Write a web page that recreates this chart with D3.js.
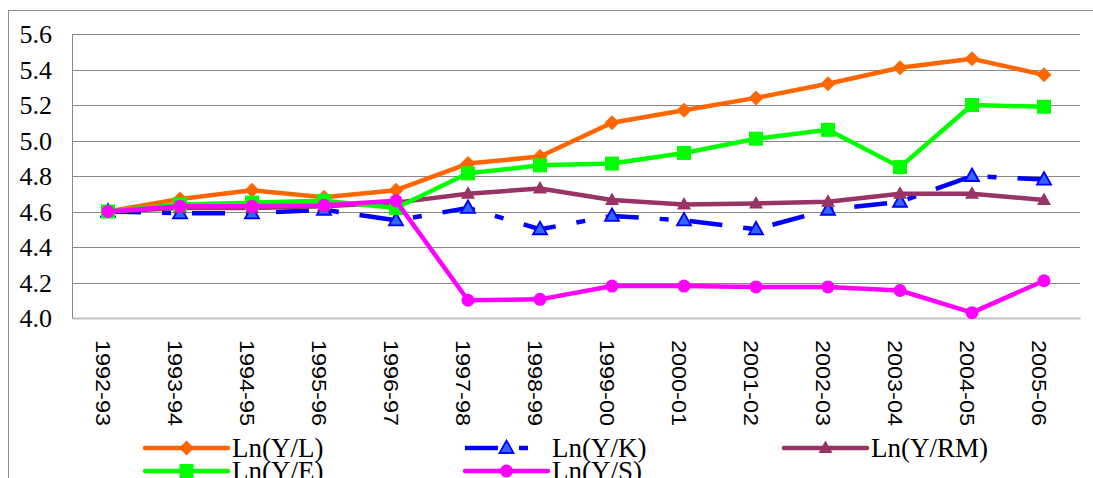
<!DOCTYPE html>
<html><head><meta charset="utf-8">
<script src="https://cdn.jsdelivr.net/npm/d3@7"></script>
<style>html,body{margin:0;padding:0;background:#fff;}svg{display:block;}</style>
</head><body>
<svg id="c" width="1093" height="478"></svg>
<script>
const categories = ["1992-93","1993-94","1994-95","1995-96","1996-97","1997-98","1998-99","1999-00","2000-01","2001-02","2002-03","2003-04","2004-05","2005-06"];
const yTicks = [4.0,4.2,4.4,4.6,4.8,5.0,5.2,5.4,5.6];
const lnYL  = [4.60,4.67,4.72,4.68,4.72,4.87,4.91,5.10,5.17,5.24,5.32,5.41,5.46,5.37];
const lnYK  = [4.60,4.59,4.59,4.61,4.55,4.62,4.50,4.575,4.55,4.50,4.61,4.655,4.80,4.78];
const lnYRM = [4.60,4.62,4.62,4.63,4.65,4.70,4.73,4.665,4.64,4.645,4.655,4.70,4.70,4.665];
const lnYE  = [4.60,4.64,4.65,4.66,4.62,4.815,4.86,4.87,4.93,5.01,5.06,4.85,5.20,5.19];
const lnYS  = [4.60,4.63,4.63,4.635,4.66,4.10,4.105,4.18,4.18,4.175,4.175,4.155,4.03,4.21];
const seriesNames = ["Ln(Y/L)","Ln(Y/K)","Ln(Y/RM)","Ln(Y/E)","Ln(Y/S)"];

const series = [
  {name:seriesNames[0], values:lnYL,  color:"#FF6600", marker:"diamond"},
  {name:seriesNames[1], values:lnYK,  color:"#0000FF", marker:"triangle", fill:"#3366FF", dash:"33,21,9,21"},
  {name:seriesNames[2], values:lnYRM, color:"#993366", marker:"triangle"},
  {name:seriesNames[3], values:lnYE,  color:"#00FF00", marker:"square"},
  {name:seriesNames[4], values:lnYS,  color:"#FF00FF", marker:"circle"}
];

const svg = d3.select("#c");
const pL = 72, pR = 1080, pT = 34, pB = 318;

// outer frame
svg.append("rect").attr("x",8.5).attr("y",10.5).attr("width",1100).attr("height",500)
  .attr("fill","none").attr("stroke","#8c8c8c").attr("stroke-width",1);

const x = d3.scaleBand().domain(categories).range([pL,pR]);
const y = d3.scaleLinear().domain([4.0,5.6]).range([pB,pT]);
const cx = d => x(d) + x.bandwidth()/2;

// gridlines
const grid = svg.append("g").attr("transform",`translate(${pL},0)`)
  .call(d3.axisLeft(y).tickValues(yTicks.slice(1)).tickSize(-(pR-pL)).tickFormat(""));
grid.select(".domain").remove();
grid.selectAll("line").attr("stroke","#888").attr("stroke-width",1).attr("shape-rendering","crispEdges");

// y axis labels
const ya = svg.append("g").attr("transform",`translate(${pL},0)`)
  .call(d3.axisLeft(y).tickValues(yTicks).tickSize(0).tickPadding(20).tickFormat(d3.format(".1f")));
ya.select(".domain").attr("stroke","#888").attr("stroke-width",1).attr("shape-rendering","crispEdges");
ya.selectAll("text").attr("font-family","'Liberation Serif', 'Times New Roman', serif")
  .attr("font-size",26).attr("fill","#000").attr("dy","0.34em");

// x axis
const xa = svg.append("g").attr("transform",`translate(0,${pB})`)
  .call(d3.axisBottom(x).tickSize(0).tickSizeOuter(0));
xa.select(".domain").attr("stroke","#bfbfbf").attr("stroke-width",2);
xa.selectAll("text")
  .attr("font-family","'Liberation Sans', Arial, sans-serif").attr("font-size",21).attr("fill","#000")
  .attr("text-anchor","start")
  .attr("transform","rotate(90)")
  .attr("x",22).attr("y",12).attr("dy","0")
  .attr("textLength",86).attr("lengthAdjust","spacingAndGlyphs");

function drawMarker(g, type, px, py, s){
  const color = s.color, fill = s.fill || s.color;
  if(type==="diamond"){
    g.append("path").attr("d",`M${px},${py-7.5}L${px+7.5},${py}L${px},${py+7.5}L${px-7.5},${py}Z`).attr("fill",fill);
  } else if(type==="square"){
    g.append("rect").attr("x",px-7).attr("y",py-7).attr("width",14).attr("height",14).attr("fill",fill);
  } else if(type==="circle"){
    g.append("circle").attr("cx",px).attr("cy",py).attr("r",6.5).attr("fill",fill);
  } else if(type==="triangle"){
    const sw = s.fill ? 1.8 : 0;
    g.append("path").attr("d",`M${px},${py-7.5}L${px+7},${py+5}L${px-7},${py+5}Z`)
      .attr("fill",fill).attr("stroke",color).attr("stroke-width",sw).attr("stroke-linejoin","miter");
  }
}

const line = d3.line().x((d,i)=>cx(categories[i])).y(d=>y(d));
series.forEach(s=>{
  const g = svg.append("g");
  g.append("path").attr("d",line(s.values)).attr("fill","none").attr("stroke",s.color)
    .attr("stroke-width",4.5).attr("stroke-linejoin","round")
    .attr("stroke-dasharray",s.dash||null);
  s.values.forEach((v,i)=>drawMarker(g,s.marker,cx(categories[i]),y(v),s));
});

// legend
const legendPos = [
  {lx:145, ly:448},{lx:465, ly:448},{lx:784, ly:448},
  {lx:145, ly:471},{lx:465, ly:471}
];
series.forEach((s,i)=>{
  const p = legendPos[i];
  const g = svg.append("g");
  g.append("line").attr("x1",p.lx).attr("x2",p.lx+83).attr("y1",p.ly).attr("y2",p.ly)
    .attr("stroke",s.color).attr("stroke-width",4.5).attr("stroke-linecap",s.dash?"butt":"round")
    .attr("stroke-dasharray",s.dash||null);
  drawMarker(g,s.marker,p.lx+41.5,p.ly,s);
  g.append("text").attr("x",p.lx+87).attr("y",p.ly).attr("dy","0.35em")
    .attr("font-family","'Liberation Serif', 'Times New Roman', serif").attr("font-size",27)
    .attr("fill","#000").text(s.name);
});
</script>
</body></html>
